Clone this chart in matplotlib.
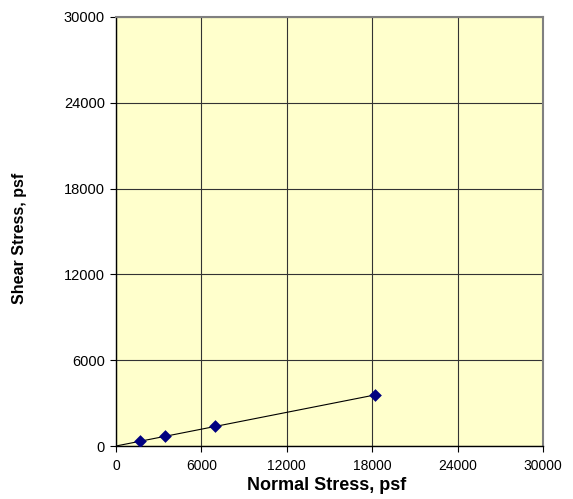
import numpy as np
import matplotlib.pyplot as plt

# Data
normal_stress = [1690, 3460, 6960, 18200]
shear_stress = [370, 700, 1400, 3550]
ticks = [0, 6000, 12000, 18000, 24000, 30000]

plt.rcParams['font.family'] = ['Liberation Sans', 'DejaVu Sans']

fig = plt.figure(figsize=(5.73, 4.99), dpi=100)
ax = fig.add_axes([116 / 573, 53 / 499, 427 / 573, 429 / 499])
ax.set_facecolor('#FFFFCC')

# Trendline through origin
x = np.array(normal_stress)
y = np.array(shear_stress)
slope = np.sum(x * y) / np.sum(x * x)
ax.plot([0, x.max()], [0, slope * x.max()], color='black', lw=0.8, zorder=3)

ax.scatter(normal_stress, shear_stress, marker='D', s=42, color='#000080',
           zorder=4, linewidths=0)

ax.set_xlim(0, 30000)
ax.set_ylim(0, 30000)
ax.set_xticks(ticks)
ax.set_yticks(ticks)
ax.grid(True, color='#333333', lw=0.8)
ax.set_axisbelow(True)

for side in ['top', 'right']:
    ax.spines[side].set_color('#808080')
    ax.spines[side].set_linewidth(1.5)
for side in ['left', 'bottom']:
    ax.spines[side].set_color('black')
    ax.spines[side].set_linewidth(1.0)

ax.tick_params(direction='out', length=4, width=0.8)
ax.tick_params(axis='x', labelsize=10, pad=5)
ax.tick_params(axis='y', labelsize=10.5, pad=4)

ax.set_xlabel('Normal Stress, psf', fontsize=13, fontweight='bold')
ax.set_ylabel('Shear Stress, psf', fontsize=11.5, fontweight='bold')
ax.xaxis.label.set_va('center')
ax.yaxis.label.set_va('center')
ax.xaxis.set_label_coords(0.493, -0.091)
ax.yaxis.set_label_coords(-0.225, 0.485)

fig.savefig('out.png', dpi=100)
